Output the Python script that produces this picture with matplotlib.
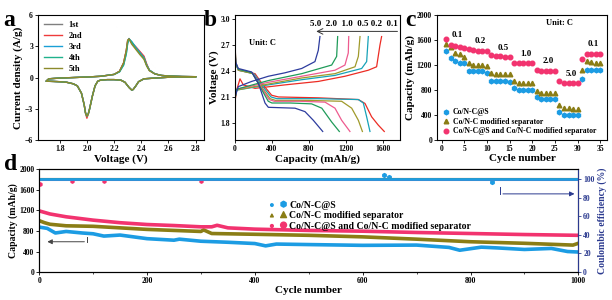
import matplotlib
matplotlib.use("Agg")
import matplotlib.pyplot as plt
from matplotlib.legend_handler import HandlerPathCollection

plt.rcParams['font.family'] = ['Liberation Serif', 'DejaVu Serif']
plt.rcParams['font.weight'] = 'bold'
plt.rcParams['axes.labelweight'] = 'bold'
plt.rcParams['axes.linewidth'] = 0.8

# ---------------- panel a : CV curves ----------------
cv_labels = ['1st', '2nd', '3rd', '4th', '5th']
cv_colors = ['#7f7f7f', '#ee3b3b', '#1a9fd6', '#20b28c', '#8c8a2c']
v_cath = [2.80, 2.70, 2.60, 2.50, 2.42, 2.38, 2.36, 2.34, 2.33, 2.31, 2.28, 2.25, 2.20,
          2.15, 2.10, 2.08, 2.06, 2.04, 2.02, 2.01, 2.00, 1.99, 1.98, 1.96, 1.93, 1.90,
          1.85, 1.80, 1.75, 1.70]
i_cath = [0.08, 0.06, 0.03, -0.05, -0.12, -0.4, -0.8, -1.15, -1.2, -0.95, -0.45, -0.25, -0.2,
          -0.2, -0.25, -0.35, -0.8, -1.8, -3.0, -3.5, -3.75, -3.4, -2.6, -1.5, -0.8, -0.6,
          -0.45, -0.4, -0.37, -0.35]
cath_peak = [-3.75, -3.9, -3.7, -3.7, -3.7]
v_anod = [1.70, 1.72, 1.80, 1.90, 2.00, 2.10, 2.20, 2.24, 2.27, 2.29, 2.30, 2.31, 2.33,
          2.36, 2.39, 2.42, 2.44, 2.46, 2.50, 2.55, 2.60, 2.70, 2.80]
i_anod = {
    '1st': [-0.35, -0.12, -0.05, 0.0, 0.05, 0.12, 0.3, 0.6, 1.4, 2.6, 3.5, 3.75, 3.3, 2.85, 2.4, 1.95, 1.2, 0.7, 0.35, 0.2, 0.15, 0.1, 0.08],
    '2nd': [-0.35, -0.12, -0.05, 0.0, 0.05, 0.12, 0.3, 0.6, 1.4, 2.6, 3.5, 3.7, 3.35, 2.95, 2.5, 2.05, 1.3, 0.7, 0.35, 0.2, 0.15, 0.1, 0.08],
    '3rd': [-0.35, -0.12, -0.05, 0.0, 0.05, 0.12, 0.3, 0.55, 1.2, 2.3, 3.3, 3.7, 3.45, 2.9, 2.4, 1.9, 1.2, 0.7, 0.35, 0.2, 0.15, 0.1, 0.08],
    '4th': [-0.35, -0.12, -0.05, 0.0, 0.05, 0.12, 0.3, 0.55, 1.2, 2.3, 3.3, 3.7, 3.4, 2.8, 2.3, 1.85, 1.15, 0.7, 0.35, 0.2, 0.15, 0.1, 0.08],
    '5th': [-0.35, -0.12, -0.05, 0.0, 0.05, 0.12, 0.3, 0.6, 1.4, 2.6, 3.6, 3.7, 3.2, 2.7, 2.2, 1.75, 1.1, 0.65, 0.35, 0.2, 0.15, 0.1, 0.08],
}

# ---------------- panel b : charge/discharge ----------------
rates = ['0.1', '0.2', '0.5', '1.0', '2.0', '5.0']
rate_colors = ['#ec2c24', '#17a2b8', '#a09a2b', '#ee5b8f', '#1f9b59', '#2d3c9e']
dis_cap = {
    '0.1': [0, 8, 36, 217, 289, 397, 470, 900, 1336, 1408, 1480, 1552, 1617],
    '0.2': [0, 8, 36, 205, 280, 390, 455, 900, 1336, 1390, 1426, 1462],
    '0.5': [0, 8, 36, 195, 270, 380, 440, 800, 1155, 1264, 1336, 1380],
    '1.0': [0, 8, 36, 190, 265, 370, 425, 700, 975, 1083, 1155, 1245],
    '2.0': [0, 8, 36, 185, 260, 360, 400, 600, 830, 940, 1047, 1130],
    '5.0': [0, 8, 36, 180, 253, 325, 361, 650, 758, 848, 950],
}
dis_volt = {
    '0.1': [2.75, 2.50, 2.41, 2.37, 2.26, 2.12, 2.10, 2.09, 2.07, 2.025, 1.87, 1.774, 1.70],
    '0.2': [2.72, 2.50, 2.41, 2.37, 2.25, 2.10, 2.08, 2.08, 2.07, 2.03, 1.87, 1.70],
    '0.5': [2.70, 2.50, 2.41, 2.37, 2.24, 2.08, 2.06, 2.06, 2.05, 1.97, 1.83, 1.70],
    '1.0': [2.68, 2.48, 2.42, 2.38, 2.24, 2.07, 2.05, 2.05, 2.04, 1.97, 1.83, 1.70],
    '2.0': [2.66, 2.48, 2.42, 2.38, 2.24, 2.05, 2.03, 2.03, 2.02, 1.97, 1.81, 1.70],
    '5.0': [2.62, 2.50, 2.43, 2.39, 2.26, 2.03, 1.98, 1.97, 1.93, 1.83, 1.70],
}
chg_cap = {
    '0.1': [0, 18, 54, 90, 217, 541, 902, 1191, 1444, 1534, 1570, 1588],
    '0.2': [0, 18, 361, 722, 1083, 1372, 1426, 1444],
    '0.5': [0, 18, 361, 722, 1083, 1300, 1336, 1354],
    '1.0': [0, 18, 361, 722, 1083, 1191, 1227, 1232],
    '2.0': [0, 18, 361, 722, 1047, 1101, 1112],
    '5.0': [0, 36, 180, 361, 541, 722, 866, 902, 920],
}
chg_volt = {
    '0.1': [2.05, 2.18, 2.31, 2.24, 2.20, 2.24, 2.28, 2.34, 2.41, 2.45, 2.70, 2.80],
    '0.2': [2.08, 2.18, 2.24, 2.30, 2.35, 2.43, 2.51, 2.80],
    '0.5': [2.08, 2.18, 2.25, 2.32, 2.37, 2.45, 2.57, 2.80],
    '1.0': [2.08, 2.19, 2.27, 2.34, 2.41, 2.47, 2.61, 2.80],
    '2.0': [2.08, 2.19, 2.29, 2.37, 2.47, 2.57, 2.80],
    '5.0': [2.10, 2.22, 2.28, 2.34, 2.38, 2.43, 2.51, 2.64, 2.80],
}

# ---------------- panel c : rate capability ----------------
cycles_c = list(range(1, 36))
cap_s = [1430, 1320, 1260, 1230, 1230, 1110, 1110, 1110, 1100, 1080,
         950, 950, 940, 940, 930, 830, 800, 800, 800, 800,
         690, 650, 650, 650, 650, 450, 400, 400, 400, 400,
         980, 1120, 1120, 1120, 1120]
cap_sep = [1540, 1490, 1400, 1370, 1330, 1240, 1200, 1200, 1200, 1190,
           1080, 1060, 1060, 1050, 1050, 950, 920, 910, 910, 910,
           790, 760, 750, 750, 750, 560, 510, 510, 500, 500,
           1120, 1260, 1250, 1240, 1240]
cap_both = [1620, 1520, 1500, 1490, 1480, 1450, 1440, 1430, 1430, 1420,
            1360, 1350, 1340, 1330, 1330, 1240, 1230, 1230, 1230, 1230,
            1120, 1110, 1110, 1110, 1110, 940, 910, 910, 910, 920,
            1300, 1380, 1380, 1380, 1370]
rate_text = ['0.1', '0.2', '0.5', '1.0', '2.0', '5.0', '0.1']
rate_text_x = [3.5, 8.5, 13.5, 18.5, 23.5, 28.5, 33.5]
rate_text_y = [1620, 1520, 1410, 1310, 1200, 990, 1470]
series_names = ['Co/N-C@S', 'Co/N-C modified separator', 'Co/N-C@S and Co/N-C modified separator']
c_colors = ['#1c9ce3', '#8a7d15', '#f2336f']
c_markers = ['h', '^', 'o']

# ---------------- panel d : long cycling ----------------
d_cyc_s = [0, 15, 30, 50, 80, 100, 120, 150, 200, 250, 260, 300, 350, 400, 420, 440, 500, 600, 700, 760, 780, 820, 850, 900, 950, 980, 1000]
d_cap_s = [875, 850, 760, 790, 760, 745, 700, 720, 650, 620, 640, 600, 580, 555, 510, 545, 535, 520, 525, 480, 425, 485, 470, 440, 460, 400, 390]
d_cyc_sep = [0, 10, 20, 50, 100, 150, 200, 250, 300, 305, 320, 400, 500, 600, 700, 800, 900, 990, 1000]
d_cap_sep = [1000, 960, 930, 900, 890, 860, 830, 810, 790, 820, 750, 735, 715, 685, 640, 590, 560, 525, 560]
d_cyc_both = [0, 20, 50, 100, 150, 200, 250, 300, 320, 330, 350, 400, 500, 600, 700, 800, 900, 1000]
d_cap_both = [1190, 1130, 1075, 1010, 960, 925, 905, 880, 880, 910, 860, 835, 810, 795, 770, 750, 730, 715]
ce_cyc = [0, 1000]
ce_s = [100.5, 100.5]
ce_sep = [100.0, 100.0]
ce_both = [99.6, 99.6]
ce_out_x_s = [640, 648, 840]
ce_out_y_s = [104.5, 102.5, 96.5]
ce_out_x_both = [2, 60, 120, 300]
ce_out_y_both = [94.5, 97.5, 97.5, 97.5]

fig = plt.figure(figsize=(6.12, 3.0), dpi=100)
ax_a = fig.add_axes([0.062, 0.533, 0.271, 0.417])
ax_b = fig.add_axes([0.384, 0.533, 0.270, 0.417])
ax_c = fig.add_axes([0.714, 0.533, 0.278, 0.417])
ax_d = fig.add_axes([0.064, 0.093, 0.881, 0.343])

tick_kw = dict(labelsize=5.5, length=2, width=0.6, direction='out', pad=1.5)

# a
for k, lab in enumerate(cv_labels):
    ic = list(i_cath)
    ic[20] = cath_peak[k]
    ax_a.plot(v_cath + v_anod, ic + i_anod[lab], color=cv_colors[k], lw=1.0, label=lab)
ax_a.set_xlim(1.64, 2.86)
ax_a.set_ylim(-6, 6)
ax_a.set_xticks([1.8, 2.0, 2.2, 2.4, 2.6, 2.8])
ax_a.set_yticks([-6, -3, 0, 3, 6])
ax_a.tick_params(**tick_kw)
ax_a.set_xlabel('Voltage (V)', fontsize=8, labelpad=1)
ax_a.set_ylabel('Current density (A/g)', fontsize=8, labelpad=1)
ax_a.legend(loc='upper left', fontsize=6, frameon=False, handlelength=2.2,
            labelspacing=0.35, borderaxespad=0.3)

# b
for k, r in enumerate(rates):
    ax_b.plot(dis_cap[r], dis_volt[r], color=rate_colors[k], lw=0.9)
    ax_b.plot(chg_cap[r], chg_volt[r], color=rate_colors[k], lw=0.9)
ax_b.set_xlim(0, 1790)
ax_b.set_ylim(1.6, 3.05)
ax_b.set_xticks([0, 400, 800, 1200, 1600])
ax_b.set_yticks([1.8, 2.1, 2.4, 2.7, 3.0])
ax_b.tick_params(**tick_kw)
ax_b.set_xlabel('Capacity (mAh/g)', fontsize=8, labelpad=1)
ax_b.set_ylabel('Voltage (V)', fontsize=8, labelpad=1)
ax_b.annotate('', xy=(850, 2.86), xytext=(1790, 2.86),
              arrowprops=dict(arrowstyle='->', color='#333333', lw=0.7))
ax_b.text(1290, 2.905, '5.0  2.0  1.0  0.5 0.2  0.1', fontsize=6.5, ha='center', va='bottom')
ax_b.text(300, 2.72, 'Unit: C', fontsize=6, ha='center', va='center')

# c
for vals, col, mk, name in zip([cap_s, cap_sep, cap_both], c_colors, c_markers, series_names):
    ax_c.plot(cycles_c, vals, ls='none', marker=mk, color=col, ms=3.3, label=name)
for t, x, y in zip(rate_text, rate_text_x, rate_text_y):
    ax_c.text(x, y, t, fontsize=6.5, ha='center', va='bottom')
ax_c.text(26, 1870, 'Unit: C', fontsize=6, ha='center', va='center')
ax_c.set_xlim(-1, 36.5)
ax_c.set_ylim(0, 2000)
ax_c.set_xticks([0, 5, 10, 15, 20, 25, 30, 35])
ax_c.set_yticks([0, 400, 800, 1200, 1600, 2000])
ax_c.tick_params(**tick_kw)
ax_c.set_xlabel('Cycle number', fontsize=8, labelpad=1)
ax_c.set_ylabel('Capacity (mAh/g)', fontsize=8, labelpad=1)
ax_c.legend(loc='lower left', fontsize=5.6, frameon=False, handlelength=1.0,
            handletextpad=0.4, labelspacing=0.2, borderaxespad=0.2, numpoints=1)

# d
ax_d.plot(d_cyc_sep, d_cap_sep, color=c_colors[1], lw=2.6)
ax_d.plot(d_cyc_both, d_cap_both, color=c_colors[2], lw=2.6)
ax_d.plot(d_cyc_s, d_cap_s, color=c_colors[0], lw=2.6)
ax_d.set_xlim(0, 1000)
ax_d.set_ylim(0, 2000)
ax_d.set_xticks([0, 200, 400, 600, 800, 1000])
ax_d.set_xticks([100, 300, 500, 700, 900], minor=True)
ax_d.set_yticks([0, 400, 800, 1200, 1600, 2000])
ax_d.tick_params(**tick_kw)
ax_d.tick_params(which='minor', length=1.5, width=0.5, direction='out')
ax_d.set_xlabel('Cycle number', fontsize=8, labelpad=1)
ax_d.set_ylabel('Capacity (mAh/g)', fontsize=7, labelpad=1)
ax_d.annotate('', xy=(10, 590), xytext=(89, 590),
              arrowprops=dict(arrowstyle='-|>', color='#444444', lw=0.7, mutation_scale=7))
ax_d.plot([89, 89], [590, 690], color='#444444', lw=0.7)

ax_r = ax_d.twinx()
ax_r.plot(ce_cyc, ce_both, color=c_colors[2], lw=2.2)
ax_r.plot(ce_cyc, ce_sep, color=c_colors[1], lw=1.5)
ax_r.plot(ce_cyc, ce_s, color=c_colors[0], lw=2.0)
ax_r.scatter(ce_out_x_both, ce_out_y_both, color=c_colors[2], marker='h', s=6)
ax_r.scatter(ce_out_x_s, ce_out_y_s, color=c_colors[0], marker='h', s=8)
ax_r.set_ylim(0, 110.5)
ax_r.set_yticks([0, 20, 40, 60, 80, 100])
ax_r.tick_params(axis='y', labelsize=5.5, length=2, width=0.6, direction='out', pad=1.5,
                 colors='#2b3a8f')
ax_r.spines['right'].set_color('#2b3a8f')
ax_r.set_ylabel('Coulombic efficiency (%)', fontsize=7, color='#2b3a8f', labelpad=2)
ax_r.annotate('', xy=(998, 84), xytext=(855, 84),
              arrowprops=dict(arrowstyle='-|>', color='#2b3a8f', lw=0.7, mutation_scale=7))
ax_r.plot([855, 855], [84, 91], color='#2b3a8f', lw=0.7)

handles = [ax_d.scatter([], [], color=c, marker=m) for c, m in zip(c_colors, c_markers)]
ax_d.legend(handles, series_names, loc='upper left', bbox_to_anchor=(0.41, 0.78),
            fontsize=7, frameon=False, scatterpoints=2, labelspacing=0.15,
            handletextpad=0.3, handlelength=1.8,
            handler_map={type(handles[0]): HandlerPathCollection(sizes=[4, 18])})

fig.text(0.006, 0.965, 'a', fontsize=17, fontweight='bold', va='top')
fig.text(0.333, 0.965, 'b', fontsize=17, fontweight='bold', va='top')
fig.text(0.662, 0.965, 'c', fontsize=17, fontweight='bold', va='top')
fig.text(0.006, 0.485, 'd', fontsize=17, fontweight='bold', va='top')

fig.savefig('out.png', dpi=100)
